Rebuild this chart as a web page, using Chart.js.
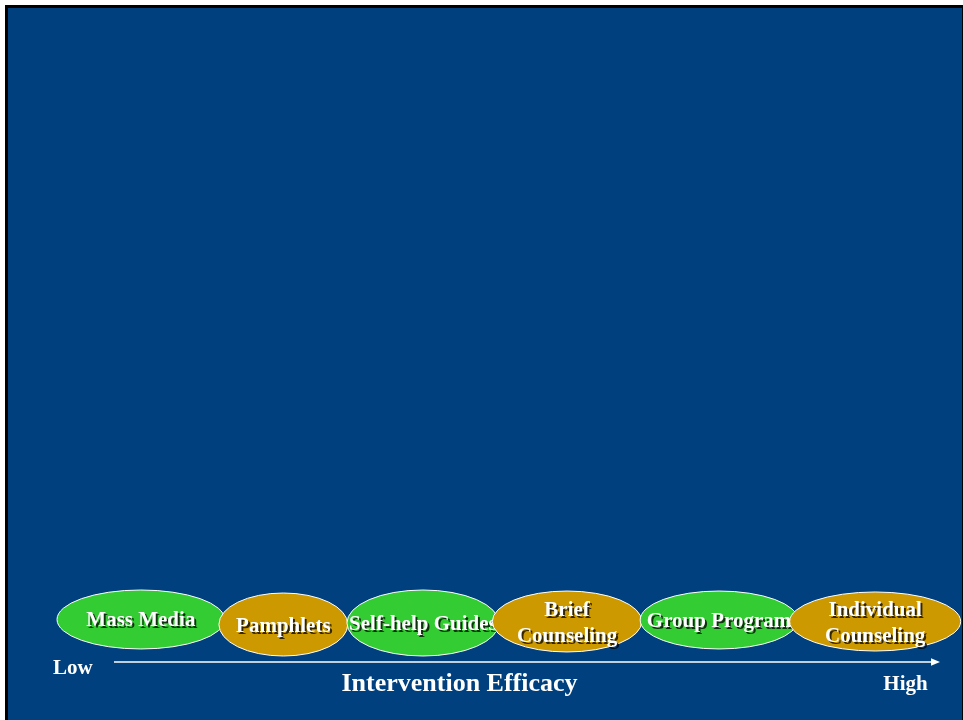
<!DOCTYPE html>
<html>
<head>
<meta charset="utf-8">
<title>Intervention Efficacy</title>
<script src="https://cdn.jsdelivr.net/npm/chart.js@4/dist/chart.umd.min.js"></script>
<style>
  html, body { margin: 0; padding: 0; background: #ffffff; }
  #wrap { width: 963px; height: 720px; }
</style>
</head>
<body>
<div id="wrap"><canvas id="chart" width="963" height="720"></canvas></div>
<script>
// Interventions ordered from low to high efficacy (multi-line labels as arrays)
const interventions = [
  ['Mass Media'],
  ['Pamphlets'],
  ['Self-help Guides'],
  ['Brief', 'Counseling'],
  ['Group Program'],
  ['Individual', 'Counseling']
];
// Span of each intervention along the efficacy axis (0 = Low, 100 = High)
const efficacyFrom = [-6.9, 12.7, 28.2, 45.8, 63.7, 81.8];
const efficacyTo   = [13.4, 28.3, 46.6, 63.9, 82.8, 102.5];
// Vertical extent of each intervention band
const bandLow  = [2.17, 1.0, 1.0, 1.67, 2.17, 1.83];
const bandHigh = [12.0, 11.5, 12.0, 11.83, 11.83, 11.67];
// Axis end labels
const axisLabels = ['Low', 'High'];
const axisTitle = 'Intervention Efficacy';

const GREEN = '#33cc33';
const GOLD = '#cc9900';
const PANEL = '#00407e';
const SERIF = '"Liberation Serif", "Times New Roman", serif';

const points = interventions.map((_, i) => ({
  x: (efficacyFrom[i] + efficacyTo[i]) / 2,
  y: (bandLow[i] + bandHigh[i]) / 2
}));

// Slide panel: white page, black frame at top/left, blue field
const panelPlugin = {
  id: 'panel',
  beforeDraw(chart) {
    const ctx = chart.ctx;
    ctx.save();
    ctx.fillStyle = '#ffffff';
    ctx.fillRect(0, 0, chart.width, chart.height);
    ctx.fillStyle = '#000000';
    ctx.fillRect(5, 5, chart.width - 5, chart.height - 5);
    ctx.fillStyle = PANEL;
    ctx.fillRect(8, 8, chart.width - 9, chart.height - 8);
    ctx.restore();
  }
};

// Ellipses for each intervention, positioned through the chart scales
const ellipsePlugin = {
  id: 'ellipses',
  afterDatasetsDraw(chart) {
    const ctx = chart.ctx;
    const xs = chart.scales.x, ys = chart.scales.y;
    ctx.save();
    interventions.forEach((lines, i) => {
      const x0 = xs.getPixelForValue(efficacyFrom[i]);
      const x1 = xs.getPixelForValue(efficacyTo[i]);
      const yTop = ys.getPixelForValue(bandHigh[i]);
      const yBot = ys.getPixelForValue(bandLow[i]);
      const cx = (x0 + x1) / 2, cy = (yTop + yBot) / 2;
      const rx = (x1 - x0) / 2, ry = (yBot - yTop) / 2;
      ctx.beginPath();
      ctx.ellipse(cx, cy, rx, ry, 0, 0, Math.PI * 2);
      ctx.fillStyle = i % 2 === 0 ? GREEN : GOLD;
      ctx.fill();
      ctx.lineWidth = 1;
      ctx.strokeStyle = '#ffffff';
      ctx.stroke();

      ctx.save();
      ctx.font = 'bold 21px ' + SERIF;
      ctx.textAlign = 'center';
      ctx.textBaseline = 'alphabetic';
      ctx.fillStyle = '#ffffff';
      ctx.shadowColor = 'rgba(0,0,0,0.75)';
      ctx.shadowOffsetX = 2;
      ctx.shadowOffsetY = 2;
      ctx.shadowBlur = 0;
      const n = lines.length;
      lines.forEach((t, k) => {
        ctx.fillText(t, cx, cy + 7 + (k - (n - 1) / 2) * 26);
      });
      ctx.restore();
    });
    ctx.restore();
  }
};

// Efficacy arrow along the x scale with its labels
const arrowPlugin = {
  id: 'arrow',
  afterDraw(chart) {
    const ctx = chart.ctx;
    const xs = chart.scales.x, ys = chart.scales.y;
    const xStart = xs.getPixelForValue(xs.min);
    const xEnd = xs.getPixelForValue(xs.max);
    const y = ys.getPixelForValue(ys.min);
    ctx.save();
    ctx.strokeStyle = '#ffffff';
    ctx.fillStyle = '#ffffff';
    ctx.lineWidth = 1.5;
    ctx.beginPath();
    ctx.moveTo(xStart, y);
    ctx.lineTo(xEnd - 8, y);
    ctx.stroke();
    ctx.beginPath();
    ctx.moveTo(xEnd, y);
    ctx.lineTo(xEnd - 9, y - 3.8);
    ctx.lineTo(xEnd - 9, y + 3.8);
    ctx.closePath();
    ctx.fill();

    ctx.textBaseline = 'alphabetic';
    ctx.font = 'bold 21px ' + SERIF;
    ctx.textAlign = 'left';
    ctx.fillText(axisLabels[0], xStart - 61, y + 12);
    ctx.textAlign = 'center';
    ctx.fillText(axisLabels[1], xEnd - 34.5, y + 28);
    ctx.font = 'bold 26px ' + SERIF;
    ctx.fillText(axisTitle, 459.5, y + 29);
    ctx.restore();
  }
};

new Chart(document.getElementById('chart'), {
  type: 'scatter',
  data: {
    datasets: [{
      label: axisTitle,
      data: points,
      pointRadius: 0,
      pointHoverRadius: 0
    }]
  },
  options: {
    responsive: false,
    animation: false,
    layout: { padding: { left: 114, right: 23, top: 62, bottom: 58 } },
    scales: {
      x: { type: 'linear', min: 0, max: 100, display: false },
      y: { type: 'linear', min: 0, max: 100, display: false }
    },
    plugins: {
      legend: { display: false },
      tooltip: { enabled: false },
      title: { display: false }
    },
    events: []
  },
  plugins: [panelPlugin, ellipsePlugin, arrowPlugin]
});
</script>
</body>
</html>
